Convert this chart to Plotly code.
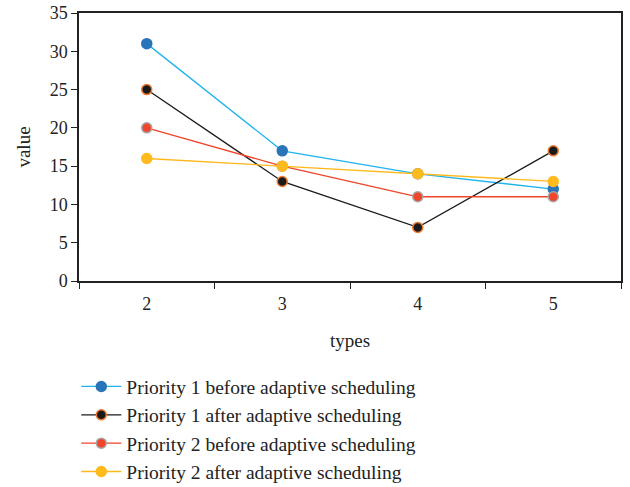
import plotly.graph_objects as go

types = ["2", "3", "4", "5"]
p1_before = [31, 17, 14, 12]
p1_after = [25, 13, 7, 17]
p2_before = [20, 15, 11, 11]
p2_after = [16, 15, 14, 13]

series = [
    ("Priority 1 before adaptive scheduling", p1_before, "#1FB4EC", "#2A74B9", "#2A74B9"),
    ("Priority 1 after adaptive scheduling", p1_after, "#1a1a1a", "#1a1a1a", "#ED7D31"),
    ("Priority 2 before adaptive scheduling", p2_before, "#F0452A", "#F0452A", "#A5A5A5"),
    ("Priority 2 after adaptive scheduling", p2_after, "#FFB81C", "#FFBA1E", "#FFBA1E"),
]

fig = go.Figure()
for name, vals, lc, mc, oc in series:
    fig.add_trace(go.Scatter(
        x=types, y=vals, name=name, mode="lines+markers",
        line=dict(color=lc, width=1.3),
        marker=dict(color=mc, size=10, line=dict(color=oc, width=1.5)),
    ))

fam = "Liberation Serif"
fig.update_layout(
    width=630, height=487,
    margin=dict(l=79, r=9, t=13, b=206, autoexpand=False),
    paper_bgcolor="white", plot_bgcolor="white",
    font=dict(family=fam, size=18, color="#222"),
    xaxis=dict(
        type="category", range=[-0.5, 3.5], tickson="boundaries",
        ticks="outside", ticklen=6, ticklabelstandoff=6, automargin=False,
        tickcolor="#222", showline=True, linecolor="#222", linewidth=1.5,
        mirror=True, showgrid=False, zeroline=False,
        title=dict(text="types", font=dict(family=fam, size=19), standoff=20),
        tickfont=dict(family=fam, size=18),
    ),
    yaxis=dict(
        range=[0, 35], dtick=5, ticks="outside", ticklen=6, tickcolor="#222",
        showline=True, linecolor="#222", linewidth=1.5, mirror=True,
        showgrid=False, zeroline=False, automargin=False,
        title=dict(text="value", font=dict(family=fam, size=19), standoff=14),
        tickfont=dict(family=fam, size=18),
    ),
    legend=dict(
        x=-0.005, xanchor="left", y=-0.322, yanchor="top",
        font=dict(family=fam, size=19.5), tracegroupgap=0, itemwidth=40,
        bgcolor="rgba(0,0,0,0)",
    ),
    showlegend=True,
)

fig.write_html("out.html")
